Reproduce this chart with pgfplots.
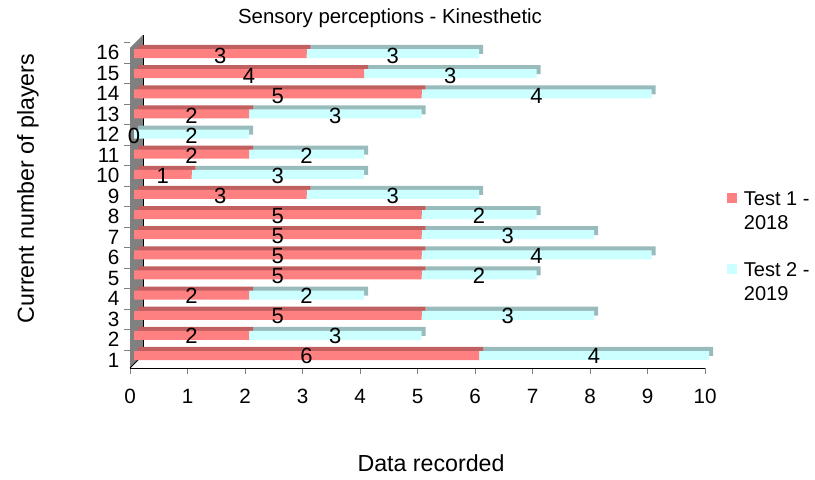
\documentclass[border=0pt]{standalone}
\usepackage{fontspec}
\setmainfont{Liberation Sans}
\usepackage{pgfplots}
\usepackage{pgfplotstable}
\pgfplotsset{compat=1.18}
\definecolor{tonefront}{HTML}{FF8080}
\definecolor{tonetop}{HTML}{C06060}
\definecolor{ttwofront}{HTML}{CCFFFF}
\definecolor{ttwotop}{HTML}{99BBBB}
\definecolor{wallgray}{HTML}{808080}
\pgfplotsset{sqlegend/.style={legend image code/.code={\fill[##1] (0pt,2.25pt) rectangle (7.5pt,9.75pt);}}}

\pgfplotstableread{
player t1 t2
1 6 4
2 2 3
3 5 3
4 2 2
5 5 2
6 5 4
7 5 3
8 5 2
9 3 3
10 1 3
11 2 2
12 0 2
13 2 3
14 5 4
15 4 3
16 3 3
}\datatable

\begin{document}
\begin{tikzpicture}
\path[use as bounding box] (0pt,0pt) rectangle (611.25pt,359.25pt);
\fill[wallgray] (97.5pt,83.25pt) -- (97.5pt,323.25pt) -- (107.25pt,333pt) -- (107.25pt,93pt) -- cycle;
\draw[black, line width=0.6pt] (107.25pt,333pt) -- (107.25pt,93pt);
\draw[black, line width=0.6pt] (97.5pt,83.25pt) -- (107.25pt,93pt);

% top faces (dark)
\begin{axis}[at={(103.5pt,80.53pt)}, anchor=south west, scale only axis,
  width=431.25pt, height=256.70pt, xmin=0, xmax=10, ymin=0, ymax=17,
  hide axis, clip=false, xbar stacked, bar width=6.75pt]
\addplot[fill=tonetop, draw=none] table[x=t1, y=player] {\datatable};
\addplot[fill=ttwotop, draw=none] table[x=t2, y=player] {\datatable};
\end{axis}

% front faces
\begin{axis}[at={(100.5pt,77.51pt)}, anchor=south west, scale only axis,
  width=431.25pt, height=256.70pt, xmin=0, xmax=10, ymin=0, ymax=17,
  hide axis, clip=false, xbar stacked, bar width=6.75pt,
  legend style={at={(axis description cs:1.0313,0.554)}, anchor=north west,
    draw=none, fill=none, inner sep=0pt, column sep=0pt, row sep=35.25pt,
    font=\fontsize{15}{18}\selectfont, cells={anchor=base west}}]
\addplot[fill=tonefront, draw=none, sqlegend] table[x=t1, y=player] {\datatable};
\addlegendentry{\begin{tabular}[t]{@{\hspace{3pt}}l@{}}Test 1 -\\2018\end{tabular}}
\addplot[fill=ttwofront, draw=none, sqlegend] table[x=t2, y=player] {\datatable};
\addlegendentry{\begin{tabular}[t]{@{\hspace{3pt}}l@{}}Test 2 -\\2019\end{tabular}}
\end{axis}

% value labels
\begin{axis}[at={(100.5pt,77.25pt)}, anchor=south west, scale only axis,
  width=431.25pt, height=254.745pt, xmin=0, xmax=10, ymin=0, ymax=17,
  hide axis, clip=false,
  nodes near coords, point meta=explicit symbolic,
  nodes near coords align=center,
  every node near coord/.append style={anchor=center, inner sep=0pt, font=\fontsize{16.5}{18}\selectfont, text=black}]
\addplot[only marks, mark=*, mark options={scale=0, draw=none, fill=none}]
  table[x expr=\thisrow{t1}/2, y=player, meta=t1] {\datatable};
\addplot[only marks, mark=*, mark options={scale=0, draw=none, fill=none}]
  table[x expr=\thisrow{t1}+\thisrow{t2}/2, y=player, meta=t2] {\datatable};
\end{axis}

% axes decoration
\begin{axis}[at={(97.5pt,83.1pt)}, anchor=south west, scale only axis,
  width=431.25pt, height=244.46pt, xmin=0, xmax=10, ymin=0.6, ymax=16.5,
  axis x line*=bottom, axis y line*=left, y axis line style={draw=none},
  xtick={0,1,...,10},
  ytick={1.5,2.5,...,16.5},
  yticklabels={1,2,3,4,5,6,7,8,9,10,11,12,13,14,15,16},
  tick align=outside, major tick length=4.5pt,
  /pgf/number format/assume math mode=true,
  tick label style={font=\fontsize{15.5}{18}\selectfont},
  xticklabel style={yshift=-7.5pt},
  yticklabel style={yshift=-7.69pt},
  title={Sensory perceptions - Kinesthetic},
  xlabel={Data recorded},
  ylabel={Current number of players},
  title style={at={(axis description cs:0.4522,1.0499)}, anchor=center, font=\fontsize{15.3}{18}\selectfont},
  xlabel style={at={(axis description cs:0.5235,-0.2908)}, anchor=center, font=\fontsize{17.4}{20}\selectfont},
  ylabel style={at={(axis description cs:-0.1774,0.5513)}, anchor=center, font=\fontsize{17.4}{20}\selectfont}]
\end{axis}
\end{tikzpicture}
\end{document}
